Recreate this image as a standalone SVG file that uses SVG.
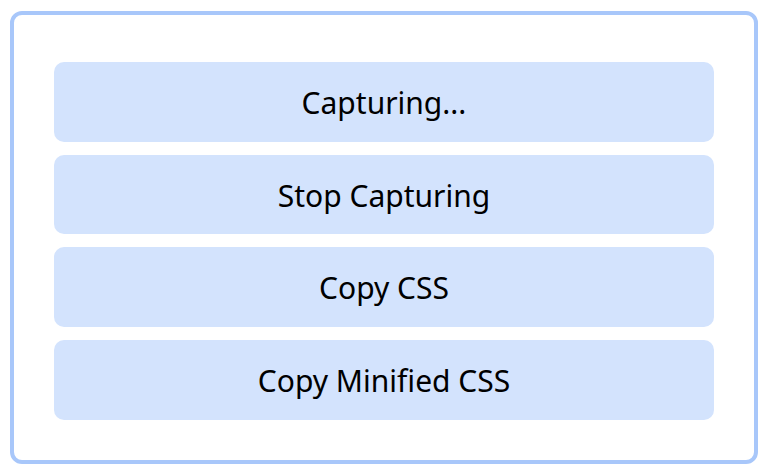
<svg xmlns="http://www.w3.org/2000/svg" width="767" height="475" viewBox="0 0 767 475">
<style>
.panel{fill:#ffffff;stroke:#a8c7fa;stroke-width:4}
.btn{fill:#d3e3fd}
.lbl{font-family:"Noto Sans","Open Sans",sans-serif;font-size:30px;fill:#000;text-anchor:middle}
</style>
<rect width="767" height="475" fill="#ffffff"/>
<g id="panel"><rect class="panel" x="12" y="13" width="744" height="449" rx="10"/></g>
<g id="capturing"><rect class="btn" x="54" y="62" width="660" height="80" rx="10"/><text class="lbl" x="384" y="114">Capturing...</text></g>
<g id="stop"><rect class="btn" x="54" y="155" width="660" height="79" rx="10"/><text class="lbl" x="384" y="207">Stop Capturing</text></g>
<g id="copy"><rect class="btn" x="54" y="247" width="660" height="80" rx="10"/><text class="lbl" x="384" y="299">Copy CSS</text></g>
<g id="copymin"><rect class="btn" x="54" y="340" width="660" height="80" rx="10"/><text class="lbl" x="384" y="392">Copy Minified CSS</text></g>
<g id="connectors"/>
</svg>
